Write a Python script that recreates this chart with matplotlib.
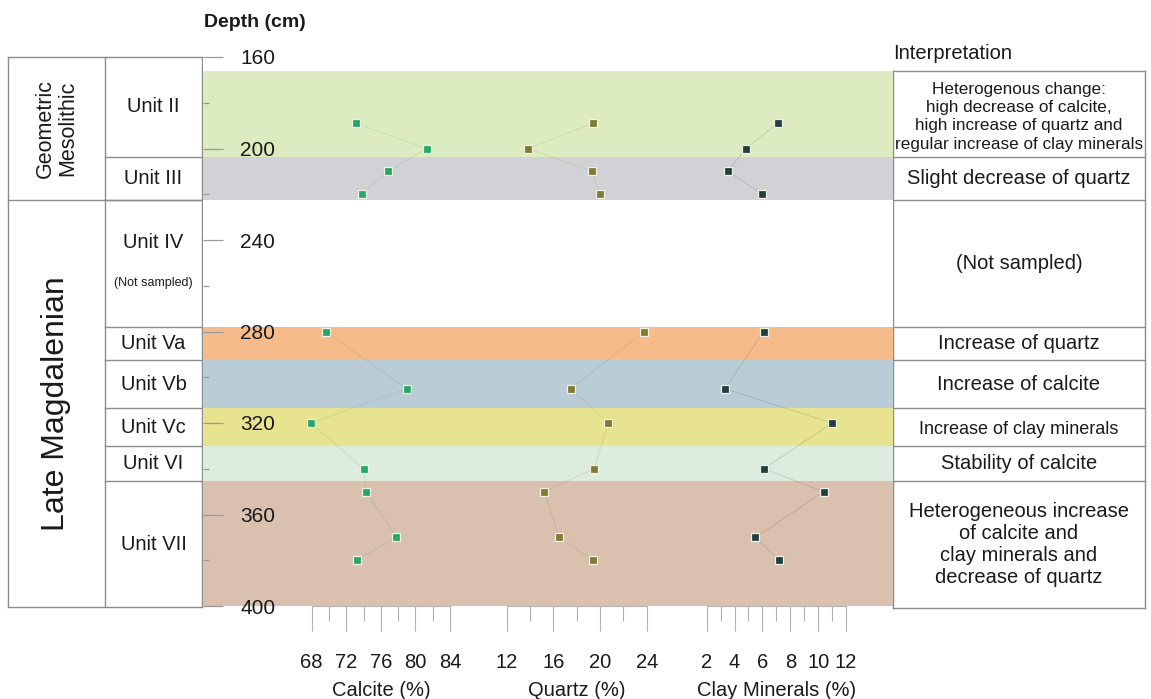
import matplotlib.pyplot as plt
from matplotlib.ticker import MultipleLocator

plt.rcParams["font.family"] = ["Liberation Sans", "DejaVu Sans"]
NARROW = ["Liberation Sans Narrow", "Liberation Sans", "DejaVu Sans"]

# sample depths (cm) and mineral contents (%)
depth = [189, 200, 210, 220, 280, 305, 320, 340, 350, 370, 380]
calcite = [73.1, 81.3, 76.8, 73.8, 69.6, 79.0, 67.9, 74.0, 74.3, 77.8, 73.2]
quartz = [19.4, 13.8, 19.3, 20.0, 23.8, 17.5, 20.7, 19.5, 15.2, 16.5, 19.4]
clay = [7.1, 4.8, 3.5, 6.0, 6.1, 3.3, 11.0, 6.1, 10.4, 5.5, 7.2]
groups = [(0, 4), (4, 11)]  # consecutive samples joined by faint lines

# stratigraphic units (depth boundaries in cm)
units = ["Unit II", "Unit III", "Unit IV", "Unit Va", "Unit Vb", "Unit Vc", "Unit VI", "Unit VII"]
unit_top = [166, 203.5, 222.5, 278, 292.5, 313.5, 330, 345.5]
unit_bot = [203.5, 222.5, 278, 292.5, 313.5, 330, 345.5, 400.5]
band_colors = ["#dcecc0", "#d2d2d6", None, "#f6bb8b", "#baccd6", "#e8e38f", "#dcecdf", "#d9c0af"]
interpretation = [
    "Heterogenous change:\nhigh decrease of calcite,\nhigh increase of quartz and\nregular increase of clay minerals",
    "Slight decrease of quartz",
    "(Not sampled)",
    "Increase of quartz",
    "Increase of calcite",
    "Increase of clay minerals",
    "Stability of calcite",
    "Heterogeneous increase\nof calcite and\nclay minerals and\ndecrease of quartz",
]
periods = ["Geometric\nMesolithic", "Late Magdalenian"]
period_top = [160, 222.5]
period_bot = [222.5, 400.5]

W, H = 1151, 699
fig = plt.figure(figsize=(W / 100, H / 100), dpi=100)


def rect(x0, y0, x1, y1):
    return [x0 / W, 1 - y1 / H, (x1 - x0) / W, (y1 - y0) / H]


TXT = "#1a1a1a"
LINE = "#8c8c8c"

# background bands + depth axis
main = fig.add_axes(rect(203, 57, 893, 606))
main.set_xlim(0, 1)
main.set_ylim(400, 160)
for top, bot, c in zip(unit_top, unit_bot, band_colors):
    if c is not None:
        main.axhspan(top, min(bot, 400), color=c, lw=0, zorder=0)
for s in main.spines.values():
    s.set_visible(False)
main.set_xticks([])
main.yaxis.set_major_locator(MultipleLocator(40))
main.yaxis.set_minor_locator(MultipleLocator(20))
main.tick_params(axis="y", which="major", direction="in", length=14.5, width=0.9,
                 color="#9a9a9a", pad=-52, labelsize=15, labelcolor=TXT)
main.tick_params(axis="y", which="minor", direction="in", length=4, width=0.9, color="#9a9a9a")
main.set_axisbelow(False)
main.text(0.075, 145, "Depth (cm)", fontsize=14, fontweight="bold", color=TXT,
          ha="center", va="center", transform=main.get_yaxis_transform())

# one axes per mineral; its bottom spine is the scale bar
minerals = [
    ("Calcite (%)", calcite, (68, 84), (311.7, 450), 4, 2, "#27a866"),
    ("Quartz (%)", quartz, (12, 24), (506.7, 646.7), 4, 2, "#7f7b33"),
    ("Clay Minerals (%)", clay, (2, 12), (706.7, 846), 2, 1, "#213f3d"),
]
for label, vals, lim, px, major, minor, col in minerals:
    ax = fig.add_axes(rect(px[0], 57, px[1], 606))
    ax.set_xlim(*lim)
    ax.set_ylim(400, 160)
    ax.patch.set_visible(False)
    for side in ["top", "left", "right"]:
        ax.spines[side].set_visible(False)
    ax.spines["bottom"].set_color("#b5b5b5")
    ax.set_yticks([])
    ax.xaxis.set_major_locator(MultipleLocator(major))
    ax.xaxis.set_minor_locator(MultipleLocator(minor))
    ax.tick_params(axis="x", which="major", direction="out", length=18, width=0.8,
                   color="#b0b0b0", pad=16, labelsize=14.5, labelcolor=TXT)
    ax.tick_params(axis="x", which="minor", direction="out", length=11, width=0.8, color="#b0b0b0")
    ax.set_xlabel(label, fontsize=14.5, color=TXT, labelpad=6)
    for a, b in groups:
        ax.plot(vals[a:b], depth[a:b], color=col, lw=0.7, alpha=0.16, clip_on=False)
    ax.plot(vals, depth, ls="none", marker="s", ms=5.5, mfc=col, mec="#f1f1e4",
            mew=0.9, clip_on=False, zorder=5)

# tables left and right
tab = fig.add_axes(rect(0, 57, W, 606), zorder=-1)
tab.set_xlim(0, W)
tab.set_ylim(400, 160)
tab.axis("off")
lk = dict(color=LINE, lw=1, clip_on=False)

for x in [8, 105, 202]:
    tab.plot([x, x], [160, 400.5], **lk)
for y in [160, 222.5, 400.5]:
    tab.plot([8, 202], [y, y], **lk)
for y in unit_top[1:]:
    tab.plot([105, 202], [y, y], **lk)

for name, top, bot in zip(periods, period_top, period_bot):
    fs = 15.5 if "\n" in name else 23
    tab.text(56.5, (top + bot) / 2, name, rotation=90, ha="center", va="center",
             fontsize=fs, color=TXT, linespacing=1.1)

for i, name in enumerate(units):
    top = 160 if i == 0 else unit_top[i]
    mid = (top + unit_bot[i]) / 2
    if name == "Unit IV":
        tab.text(153.5, 241, name, ha="center", va="center", fontsize=14.5, color=TXT)
        tab.text(153.5, 259, "(Not sampled)", ha="center", va="center", fontsize=9,
                 color=TXT, family=NARROW)
    else:
        tab.text(153.5, mid, name, ha="center", va="center", fontsize=14.5, color=TXT)

for x in [893, 1145]:
    tab.plot([x, x], [166, 401], **lk)
for y in unit_top + [401]:
    tab.plot([893, 1145], [y, y], **lk)
tab.text(893, 158.5, "Interpretation", ha="left", va="center", fontsize=14.5, color=TXT)
for i, txt in enumerate(interpretation):
    mid = (unit_top[i] + unit_bot[i]) / 2
    if i == 0:
        tab.text(1019, mid + 1.3, txt, ha="center", va="center", fontsize=12.3,
                 color=TXT, linespacing=1.28)
    elif txt == "Increase of clay minerals":
        tab.text(1019, mid + 1, txt, ha="center", va="center", fontsize=13,
                 color=TXT, family=NARROW)
    else:
        tab.text(1019, mid, txt, ha="center", va="center", fontsize=14.5,
                 color=TXT, linespacing=1.2)

fig.savefig("out.png", dpi=100)
